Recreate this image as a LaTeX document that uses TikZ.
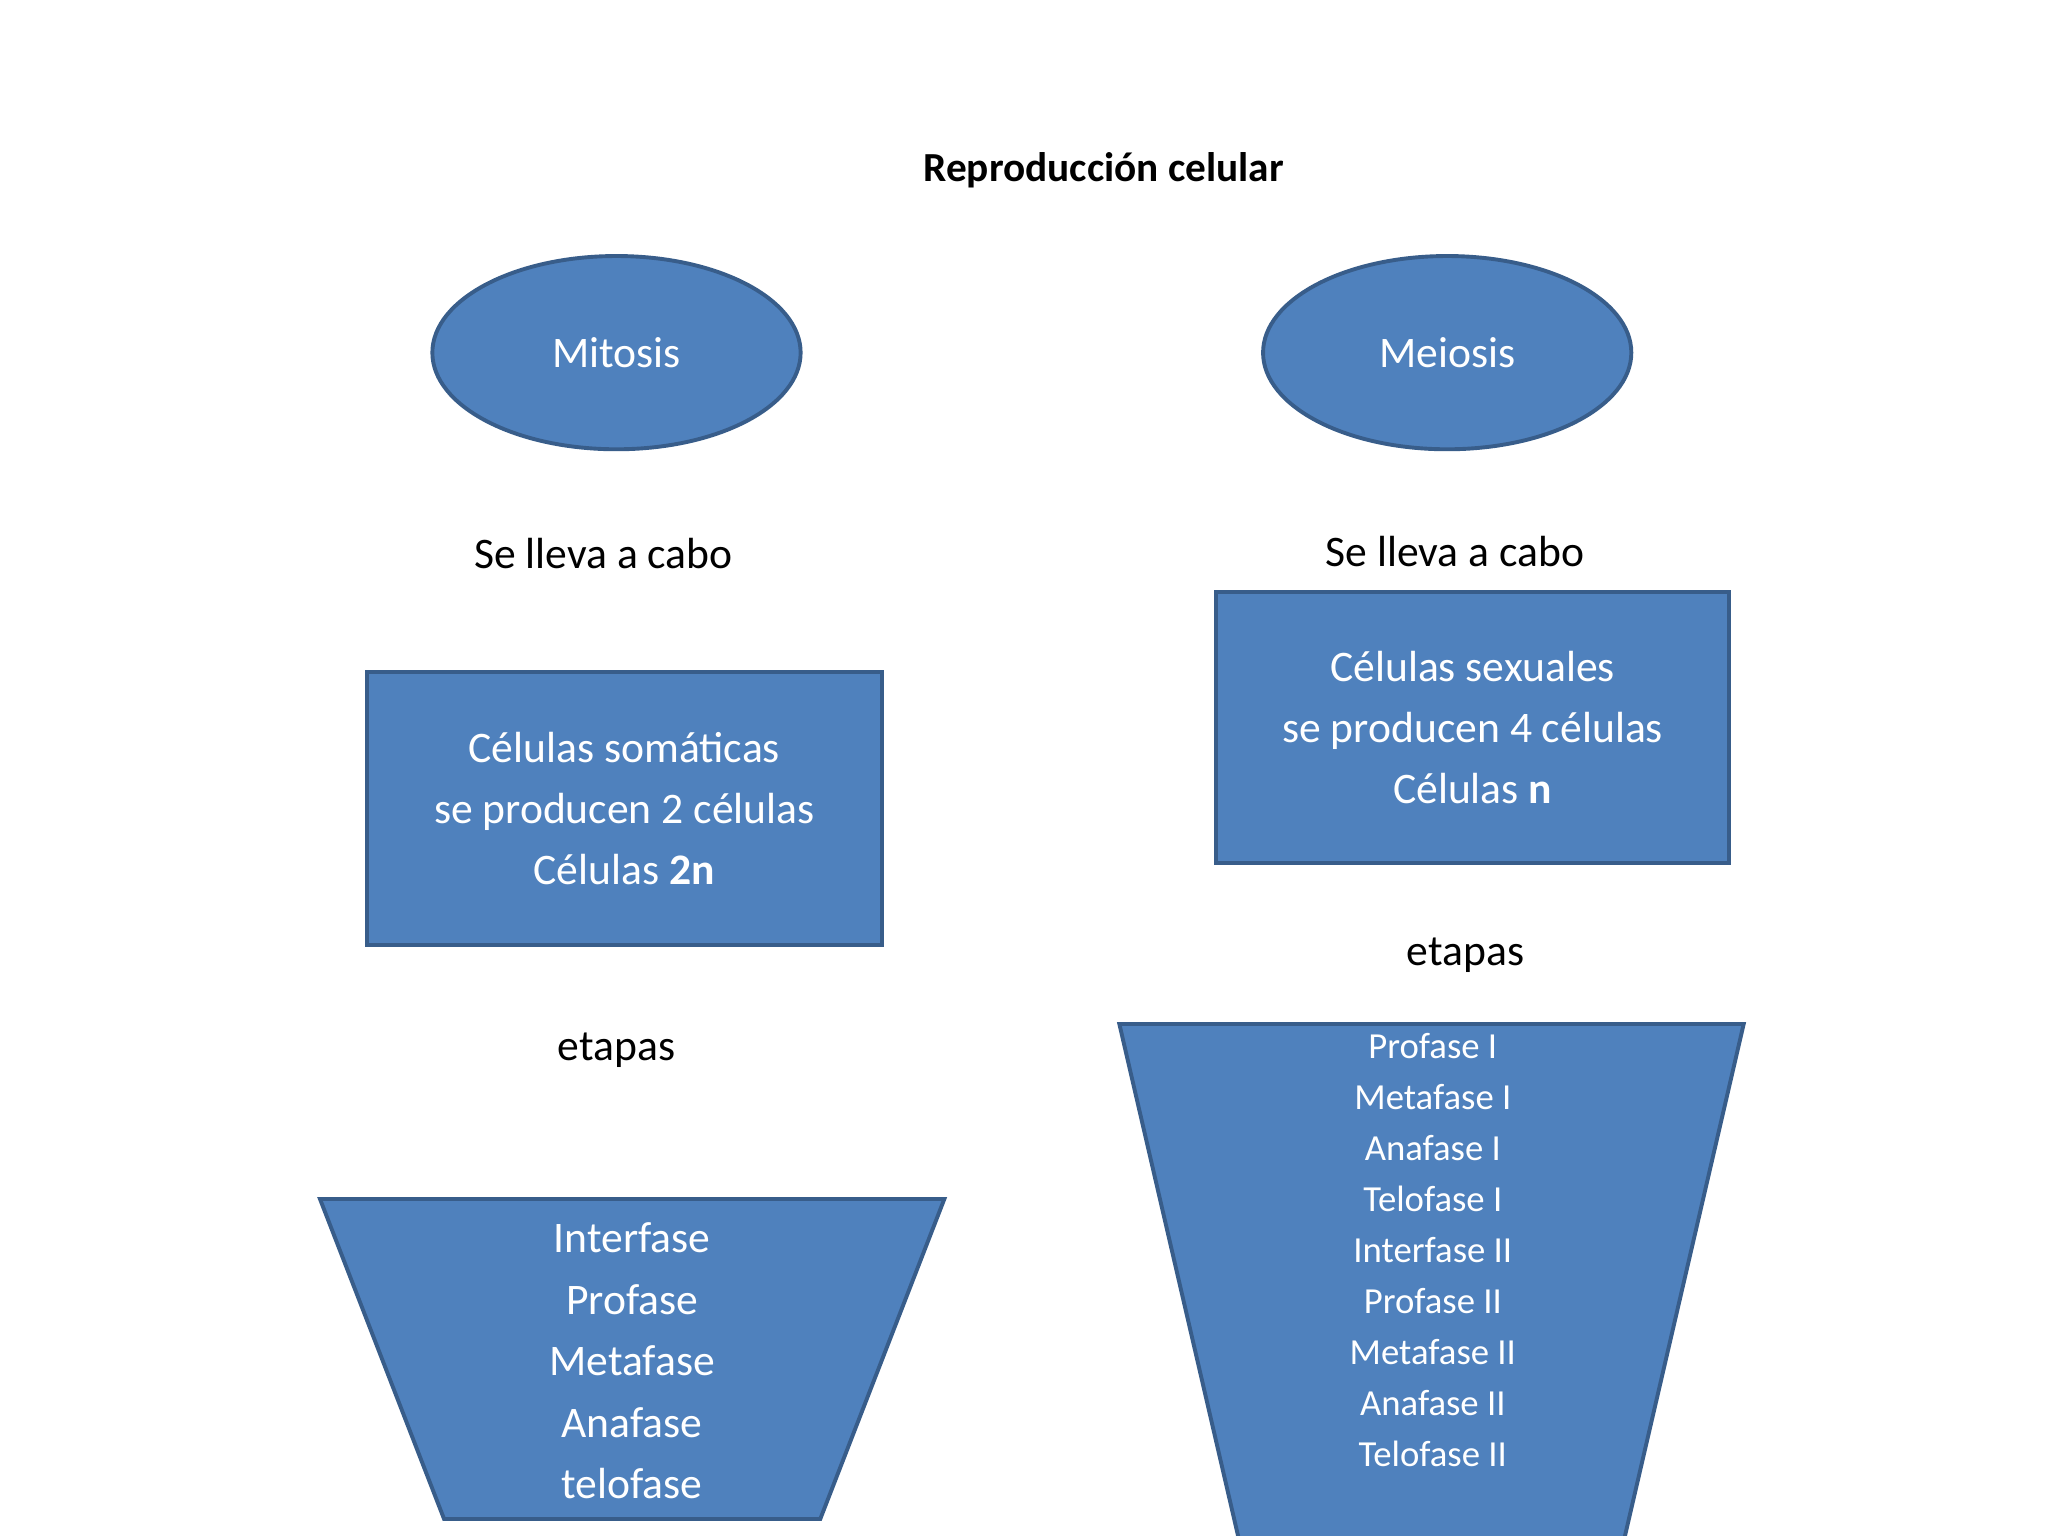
\documentclass[tikz,border=0pt]{standalone}
\usepackage{fontspec}
\setmainfont{Carlito}
\usetikzlibrary{shapes.geometric}
\definecolor{fillb}{HTML}{4F81BD}
\definecolor{edgeb}{HTML}{385D8A}
\tikzset{
  shp/.style={fill=fillb,draw=edgeb,line width=1.7pt},
  wtxt/.style={text=white,font=\fontsize{19}{26.7}\selectfont,align=center},
  btxt/.style={text=black,font=\fontsize{19}{26.7}\selectfont,align=center},
  small/.style={text=white,font=\fontsize{16}{22.2}\selectfont,align=center}
}
\begin{document}
\begin{tikzpicture}[x={(0.02cm,0)},y={(0,-0.02cm)}]
\useasboundingbox[fill=white] (0,0) rectangle (1568,1176);
\node[font=\bfseries\fontsize{18}{22}\selectfont] (title) at (845,130) {Reproducción celular};
\node[shp,ellipse,minimum width=282\pgflinewidth*0+5.64cm,minimum height=2.96cm,wtxt] (mit) at (472,270) {Mitosis};
\node[shp,ellipse,minimum width=5.64cm,minimum height=2.96cm,wtxt] (mei) at (1108,270) {Meiosis};
\node[btxt] (s1) at (462,424) {Se lleva a cabo};
\node[btxt] (s2) at (1114,422) {Se lleva a cabo};
\node[shp,rectangle,minimum width=7.88cm,minimum height=4.18cm,wtxt] (b1) at (478,619) {Células somáticas\\se producen 2 células\\Células \textbf{2n}};
\node[shp,rectangle,minimum width=7.86cm,minimum height=4.16cm,wtxt] (b2) at (1127.5,557) {Células sexuales\\se producen 4 células\\Células \textbf{n}};
\node[btxt] (e1) at (472,804) {etapas};
\node[btxt] (e2) at (1122,731) {etapas};
\draw[shp] (245,918) -- (723,918) -- (628,1163) -- (340,1163) -- cycle;
\node[wtxt,font=\fontsize{19}{26.8}\selectfont] (t1) at (484,1042) {Interfase\\Profase\\Metafase\\Anafase\\telofase};
\draw[shp] (857,784) -- (1335,784) -- (1242,1185) -- (950,1185) -- cycle;
\node[small] (t2) at (1097,957) {Profase I\\Metafase I\\Anafase I\\Telofase I\\Interfase II\\Profase II\\Metafase II\\Anafase II\\Telofase II};
\end{tikzpicture}
\end{document}
